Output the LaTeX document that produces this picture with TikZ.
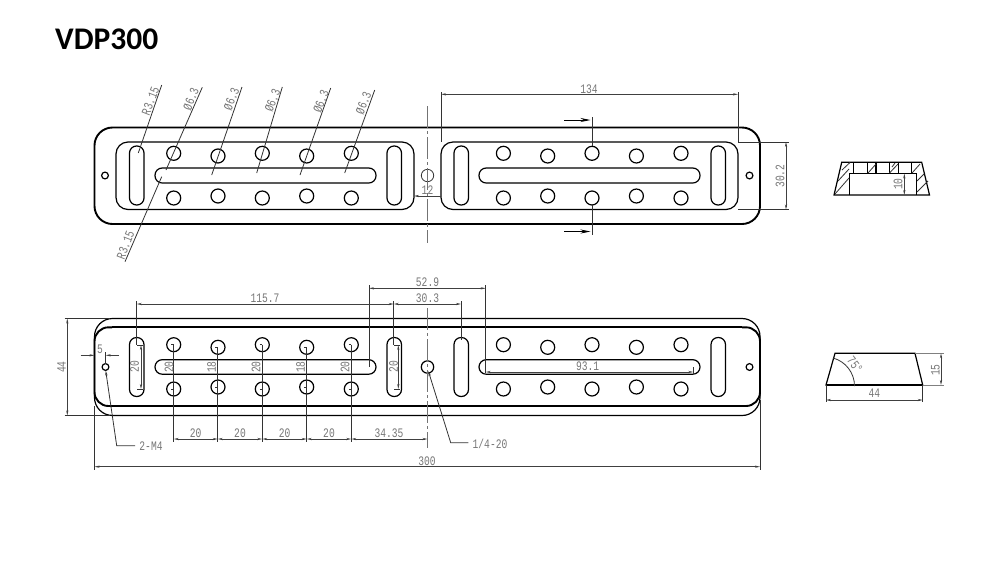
\documentclass[tikz,border=0pt]{standalone}
\usepackage{fontspec}
\usetikzlibrary{arrows.meta}
\setmainfont{Carlito}
\newfontfamily\cad[FakeStretch=0.74]{Liberation Mono}
\definecolor{dimtext}{HTML}{777777}
\tikzset{
  thick line/.style={line width=1.9pt,black},
  part/.style={line width=1.2pt,black},
  thin line/.style={line width=0.8pt,black!80},
  dimline/.style={line width=0.7pt,black!75,{Stealth[length=5pt,width=2.2pt]}-{Stealth[length=5pt,width=2.2pt]}},
  tip/.style={line width=0.7pt,black!75,-{Stealth[length=5pt,width=2.2pt]}},
  sect/.style={line width=0.8pt,black,-{Stealth[length=10pt,width=4pt]}},
  center line/.style={line width=0.7pt,black!55,dash pattern=on 22pt off 3pt on 3pt off 3pt},
  lbl/.style={font=\cad\fontsize{13}{13}\selectfont,text=dimtext,inner sep=0pt},
  title/.style={font=\fontsize{31.5}{32}\selectfont\bfseries,inner sep=0pt,anchor=west}
}
\begin{document}
\begin{tikzpicture}[x=1pt,y=-1pt]
\useasboundingbox (0,0) rectangle (1000,566);
\fill[white] (0,0) rectangle (1000,566);
\node[title] (ttl) at (55,39) {VDP300};

% ---------- TOP VIEW ----------
\draw[thick line,rounded corners=18pt] (94.5,127.5) rectangle (760,224);
\draw[part,rounded corners=12pt] (116,142) rectangle (414,209.5);
\draw[part,rounded corners=12pt] (441,142) rectangle (738,209.5);
\foreach \x in {129.5,387,454,711}
  \draw[part,rounded corners=7pt] (\x,146) rectangle ++(14.5,59);
\foreach \x in {155,479}
  \draw[part,rounded corners=7.2pt] (\x,168) rectangle ++(221,15);
\foreach \dx in {0,329.7}{
  \foreach \x/\yu/\yl in {173.7/153.3/198,218/156/196,262.3/153.3/198,306.7/156/196,351.3/153.3/198}
    \draw[part] (\x+\dx,\yu) circle (7) (\x+\dx,\yl) circle (7);
}
\draw[part] (105,175.5) circle (3.4) (749.5,175.5) circle (3.4);
\draw[thin line] (427.5,175.5) circle (6.2);
\draw[center line] (427.5,106) -- (427.5,243);

\coordinate (a1) at (161.7,85);   \coordinate (a2) at (138.3,153);
\draw[thin line] (a1) -- (a2);
\foreach \xa/\ya/\xb/\yb in {202.3/87.3/166/170,242/87/211.7/175,282.3/87/256.7/173,330.7/88/300/175,374.7/90/344.7/173}
  \draw[thin line] (\xa,\ya) -- (\xb,\yb);
\draw[thin line] (161.7,176.7) -- (125,261.7);
\node[lbl,rotate=69] (r1) at (150.5,101) {R3.15};
\node[lbl,rotate=69] (r2) at (125.5,245) {R3.15};
\foreach \x/\y in {191/99,231.5/99,272.5/100.5,321/101.5,363.5/103}
  \node[lbl,rotate=69] at (\x,\y) {Ø6.3};

\coordinate (d1) at (441,94.3); \coordinate (d2) at (738,94.3);
\draw[thin line] (441,92) -- (441,142) (738,92) -- (738,142);
\draw[dimline] (d1) -- (d2);
\node[lbl] (n134) at (589,89) {134};

\draw[tip] (441,196) -- (414,196);
\node[lbl] (n12) at (427.5,190.5) {12};

\draw[thin line] (592.3,117) -- (592.3,146) (592.3,205) -- (592.3,235);
\coordinate (s1) at (564,120); \coordinate (s3) at (564,231.5);
\draw[sect] (s1) -- (590.5,120);
\draw[sect] (s3) -- (590.5,231.5);

\draw[thin line] (738,142) -- (789,142) (738,209.5) -- (789,209.5);
\draw[dimline] (786,142) -- (786,209.5);
\node[lbl,rotate=90] (n302) at (780,176) {30.2};

% ---------- FRONT SECTION ----------
\draw[part] (841.7,162.3) -- (921.7,162.3) -- (929.5,195) -- (834,195) -- cycle;
\draw[part] (849.3,195) -- (849.3,173.3) -- (916.7,173.3) -- (916.7,195);
\foreach \x in {853.3,867.3,876,889.3,898.3,911.7}
  \draw[part] (\x,162.3) -- (\x,173.3);
\draw[thin line] (835,194) -- (849,178) (838,181) -- (849,169) (842,170) -- (850,162.5)
  (868,173) -- (876,164) (889.5,173) -- (898,164) (892,167) -- (895,163)
  (912,173) -- (920,164) (917,181) -- (924,174) (917,192) -- (928,181);
\draw[dimline] (904.3,173.5) -- (904.3,195);
\node[lbl,rotate=90] (n10) at (898,184) {10};

% ---------- BOTTOM VIEW ----------
\draw[part,rounded corners=18pt] (94.5,318.5) rectangle (760,415.5);
\draw[thick line,rounded corners=14pt] (112,327.3) -- (94.5,327.3) -- (94.5,406) -- (112,406);
\draw[thick line,rounded corners=14pt] (742,327.3) -- (760,327.3) -- (760,406) -- (742,406);
\draw[thick line] (112,327.3) -- (742,327.3) (112,406) -- (742,406);
\foreach \x in {129.5,387,454,711}
  \draw[part,rounded corners=7pt] (\x,337.5) rectangle ++(14.5,59);
\foreach \x in {155,479}
  \draw[part,rounded corners=7.2pt] (\x,359.7) rectangle ++(221,14.5);
\foreach \dx in {0,329.7}{
  \foreach \x/\yu/\yl in {173.7/344.7/389,218/347.3/387,262.3/344.7/389,306.7/347.3/387,351.3/344.7/389}
    \draw[part] (\x+\dx,\yu) circle (7) (\x+\dx,\yl) circle (7);
}
\draw[part] (105.5,367) circle (3.4) (749.5,367) circle (3.4);
\draw[part] (427.5,367) circle (6.2);
\draw[center line] (427.5,308) -- (427.5,448);

% top dimensions
\draw[thin line] (136.7,301) -- (136.7,345) (393.7,301) -- (393.7,345) (461,301) -- (461,340);
\draw[thin line] (369,285) -- (369,367) (485.7,285) -- (485.7,373);
\draw[dimline] (136.7,304) -- (393.7,304);
\draw[dimline] (393.7,304) -- (461,304);
\draw[dimline] (369,288.3) -- (485.7,288.3);
\node[lbl] (n1157) at (265,298.5) {115.7};
\node[lbl] (n303) at (427.5,298.5) {30.3};
\node[lbl] (n529) at (427.5,282.5) {52.9};
\draw[thin line] (693.3,367) -- (693.3,373.5);
\draw[dimline] (485.7,372) -- (693.3,372);
\node[lbl] (n931) at (587.7,366) {93.1};

% vertical dims and extension lines down
\foreach \x/\ya/\yb in {173.7/344.7/389,217.7/347.3/387,262.3/344.7/389,306.7/347.3/387,351.3/344.7/389}{
  \draw[thin line] (\x,\ya) -- (\x,441.7);
  \draw[thin line] (\x-2.5,\ya) -- (\x,\ya) (\x-2.5,\yb) -- (\x,\yb);
}
\foreach \x/\t in {169/20,211.5/18,256/20,300.5/18,345/20}
  \node[lbl,rotate=90] at (\x,367) {\t};
\draw[dimline] (141,345) -- (141,389);
\draw[dimline] (398.3,345) -- (398.3,389);
\draw[thin line] (137,345) -- (143,345) (137,389) -- (143,389) (394,345) -- (400,345) (394,389) -- (400,389);
\node[lbl,rotate=90] (s20a) at (134.5,366.5) {20};
\node[lbl,rotate=90] (s20b) at (393.5,366.5) {20};

% bottom chain
\foreach \xa/\xb in {173.7/217.7,217.7/262.3,262.3/306.7,306.7/351.3,351.3/427.5}
  \draw[dimline] (\xa,439) -- (\xb,439);
\foreach \x in {195.7,240,284.7,329}
  \node[lbl] at (\x,433.5) {20};
\node[lbl] (n3435) at (389,433.5) {34.35};

% 300
\draw[thin line] (94.5,406) -- (94.5,470) (760,400) -- (760,470);
\draw[dimline] (94.5,466.7) -- (760,466.7);
\node[lbl] (n300) at (427,461) {300};

% 44
\draw[thin line] (64.5,318.5) -- (110,318.5) (64.5,415.5) -- (110,415.5);
\draw[dimline] (67.3,318.5) -- (67.3,415.5);
\node[lbl,rotate=90] (n44a) at (61.5,367) {44};

% 5
\draw[thin line] (105.7,352) -- (105.7,364);
\draw[tip] (80.7,355.3) -- (94.5,355.3);
\draw[tip] (119,355.3) -- (105.7,355.3);
\node[lbl] (n5) at (100,349) {5};

% leaders
\draw[thin line,{Stealth[length=5pt,width=2.2pt]}-] (105.7,370.5) -- (116.7,445.7) -- (135,445.7);
\node[lbl] (m4) at (151,445.7) {2-M4};
\draw[thin line,{Stealth[length=5pt,width=2.2pt]}-] (428.3,371) -- (450.7,442.7) -- (468.3,442.7);
\node[lbl] (q20) at (490,443.7) {1/4-20};

% ---------- END SECTION ----------
\draw[part] (835,353.3) -- (915,353.3) -- (922.7,385) -- (826,385) -- cycle;
\draw[thick line] (826,385) -- (922.7,385);
\draw[thin line] (833,358) arc[start angle=75,end angle=0,radius=29pt];
\node[lbl,rotate=-52] (n75) at (855,365) {75°};
\draw[thin line] (826,385) -- (826,402) (922.7,385) -- (922.7,402);
\draw[dimline] (826,400) -- (922.7,400);
\node[lbl] (n44b) at (874.3,393.5) {44};
\draw[thin line,black!50] (915,353.3) -- (944,353.3) (922.7,385) -- (944,385);
\draw[dimline] (941,353.3) -- (941,385);
\node[lbl,rotate=90] (n15) at (935.5,370) {15};
\end{tikzpicture}
\end{document}
